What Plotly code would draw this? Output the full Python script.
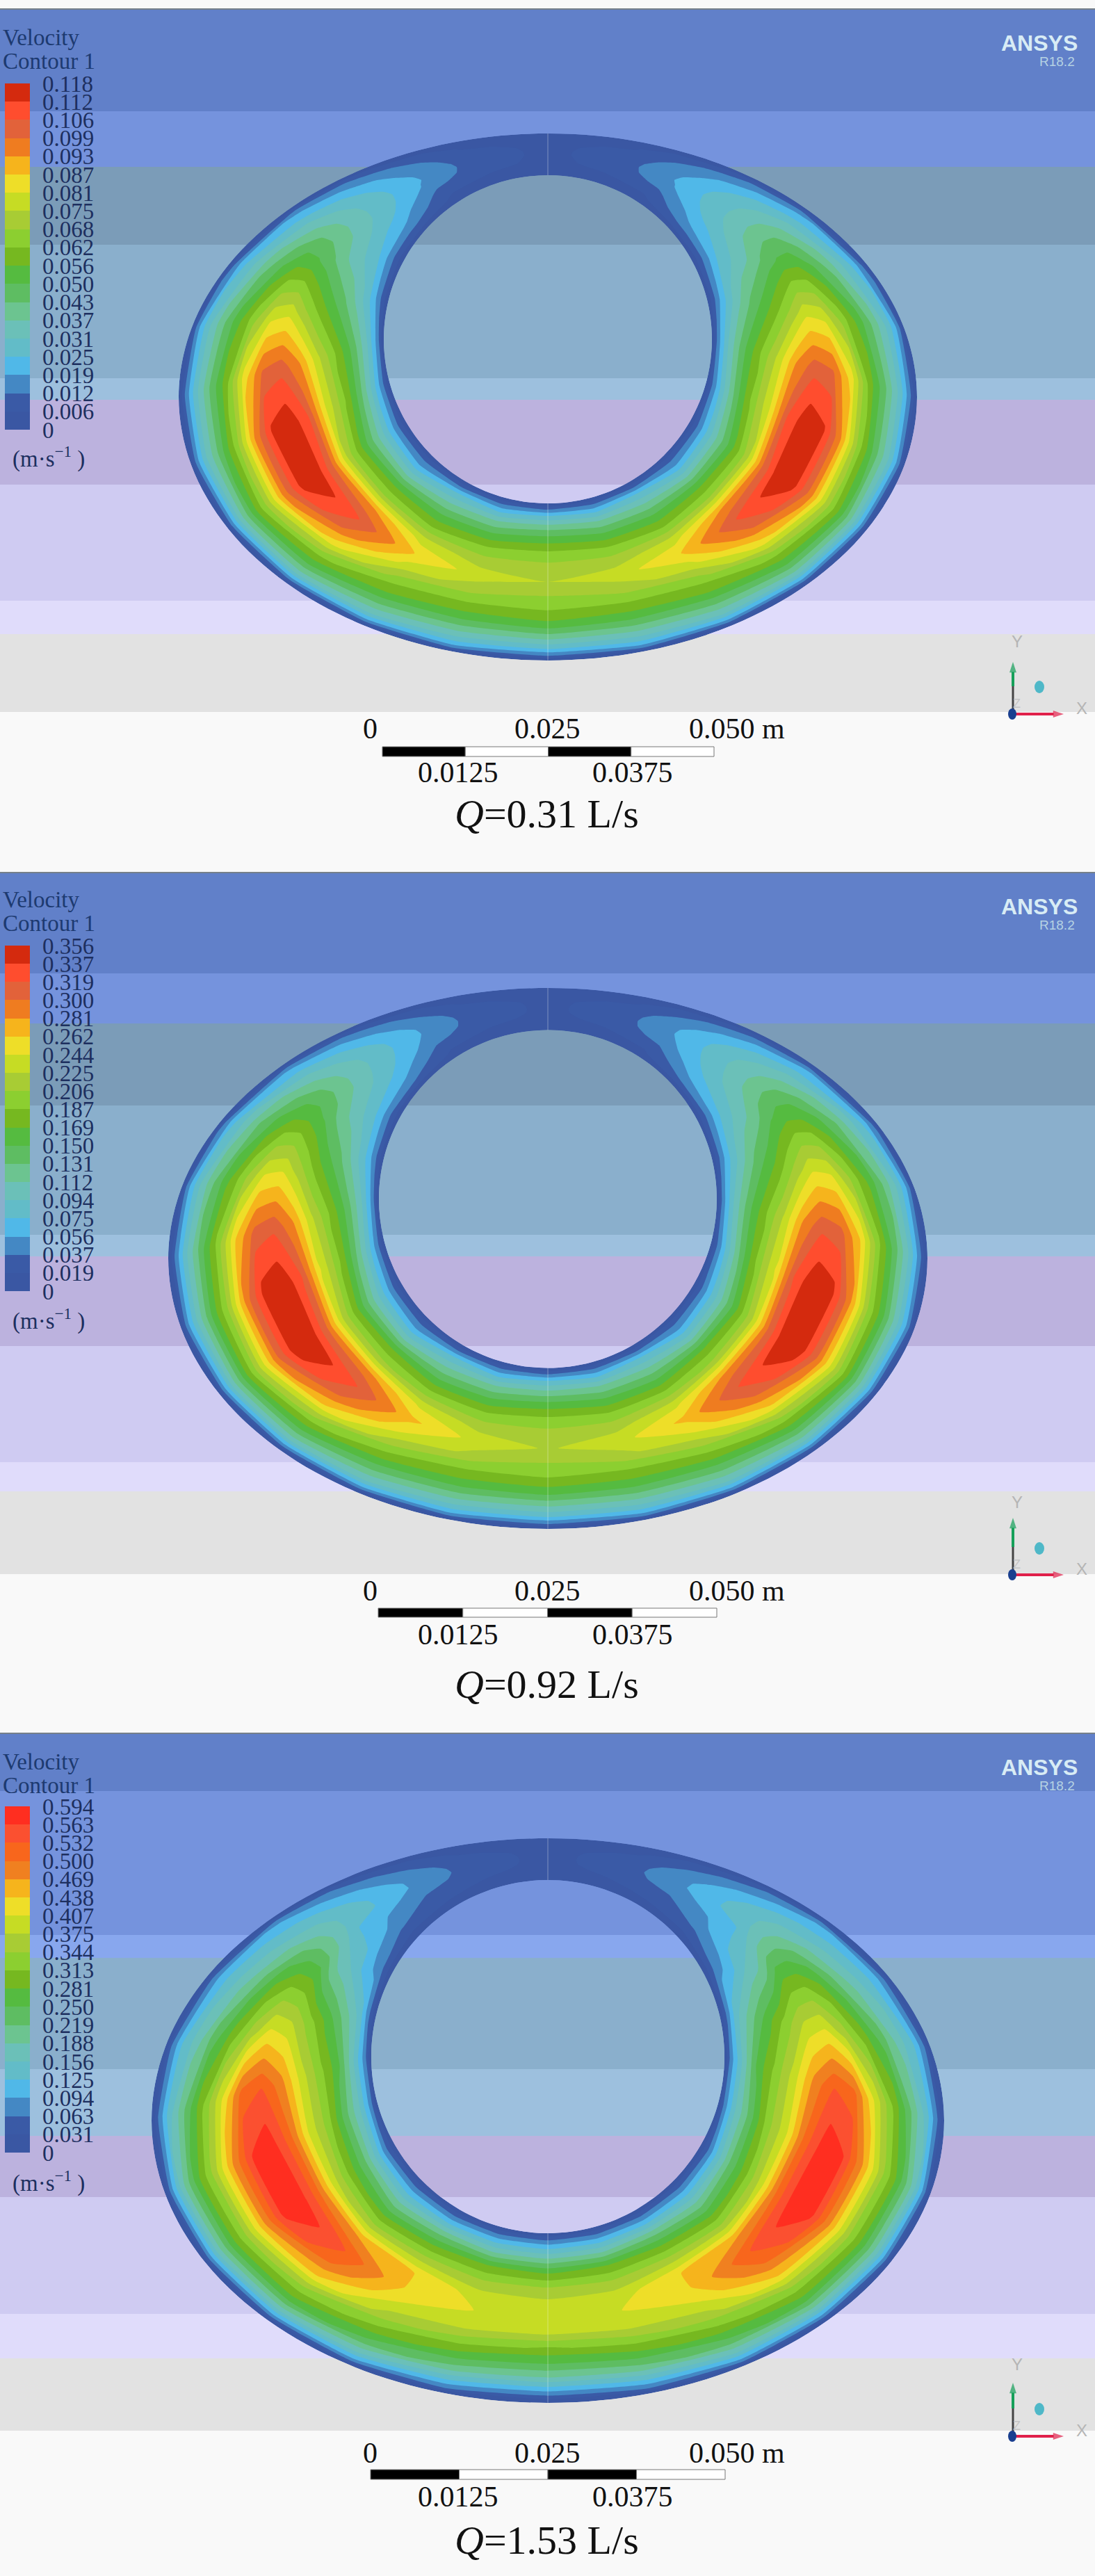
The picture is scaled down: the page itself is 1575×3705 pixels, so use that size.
import math
import plotly.graph_objects as go

PAGE_W, PAGE_H = 1575, 3705
SERIF = "Liberation Serif"

# radial stations (0 = inner circle, 1 = outer ellipse), and angle stations from the top, left side
RADIAL = [0, .03, .08, .15, .23, .32, .41, .50, .59, .68, .77, .85, .92, .97, 1]
ANGLES = [0, 15, 30, 45, 60, 75, 90, 105, 120, 135, 150, 165, 180]

# velocity, in legend-band units; one row per angle, one column per radial station
BANDS_1 = [
    [0, .4, .6, .7, .8, .8, .8, .8, .8, .8, .8, .7, .6, .4, 0],
    [0, .4, .6, .8, 1, 1.2, 1.3, 1.4, 1.4, 1.3, 1.1, .9, .6, .4, 0],
    [0, .4, .7, 1.1, 1.6, 2.3, 2.9, 3.2, 3.2, 3, 2.7, 2.2, 1.6, .8, 0],
    [0, .8, 1.8, 2.8, 3.6, 4.5, 5, 5.3, 5.4, 5.2, 4.6, 3.7, 2.8, 1.5, 0],
    [0, 1, 2.4, 4, 5, 6, 7.2, 8.2, 8.6, 7.8, 6.5, 5, 3.6, 1.8, 0],
    [0, 1.5, 3.5, 5.5, 7.3, 9, 10.8, 12.7, 12.6, 10.6, 8.5, 6.5, 4.5, 2.5, 0],
    [0, 2.5, 5, 7.6, 9.8, 12.2, 15, 16.6, 16.2, 13.5, 9.5, 7, 4.5, 2, 0],
    [0, 2, 4.5, 7.5, 10.3, 13, 17, 18.8, 18.2, 15, 10.5, 7.5, 5, 2.5, 0],
    [0, 1.5, 3.5, 6, 8.5, 11.5, 16, 18.9, 18.3, 15.5, 11.5, 8.5, 5.5, 2.5, 0],
    [0, 1.5, 3, 5.5, 8.5, 11, 15.2, 17, 15.8, 13.5, 10.3, 8, 5.5, 2.5, 0],
    [0, 1.5, 4, 6, 8, 10, 12.5, 14, 12.5, 10.5, 9, 7, 5, 2.5, 0],
    [0, 1.5, 3.5, 6, 8, 10, 11.5, 12.5, 11.5, 10, 8.5, 6.5, 4.5, 2.5, 0],
    [0, 1.5, 4, 6.5, 8.5, 10.3, 11.4, 12, 11, 10, 8.7, 6.5, 4.3, 2, 0],
]
BANDS_2 = [
    [0, .4, .6, .7, .8, .8, .8, .8, .8, .8, .8, .7, .6, .4, 0],
    [0, .4, .6, .8, 1, 1.2, 1.4, 1.5, 1.5, 1.4, 1.1, .9, .6, .4, 0],
    [0, .4, .8, 1.2, 1.8, 2.5, 3, 3.3, 3.4, 3.2, 2.8, 2.3, 1.6, .8, 0],
    [0, .9, 2, 3, 3.9, 4.7, 5.2, 5.6, 5.7, 5.4, 4.8, 3.9, 2.9, 1.5, 0],
    [0, 1.1, 2.6, 4.2, 5.3, 6.4, 7.8, 8.8, 9, 8.2, 6.9, 5.3, 3.8, 1.9, 0],
    [0, 1.6, 3.6, 5.6, 7.5, 9.2, 11.2, 13, 13, 11, 8.8, 6.7, 4.6, 2.5, 0],
    [0, 2.5, 5, 7.6, 9.8, 12.2, 15.2, 16.8, 16.4, 14, 10.2, 7.3, 4.6, 2, 0],
    [0, 2, 4.5, 7.5, 10.4, 13.2, 17.2, 18.9, 18.4, 15.4, 11, 8, 5, 2.5, 0],
    [0, 1.5, 3.5, 6, 8.8, 12, 16.2, 19, 18.6, 15.8, 12, 8.6, 5.5, 2.5, 0],
    [0, 1.5, 3, 5.5, 8.8, 11.3, 15.5, 17.2, 16, 13.8, 10.5, 8, 5.5, 2.5, 0],
    [0, 1.5, 4, 6, 8, 10.3, 12.8, 14.3, 13, 11, 9, 7, 5, 2.5, 0],
    [0, 1.5, 3.5, 6, 8, 10, 11.6, 12.6, 11.7, 10, 8.5, 6.5, 4.5, 2.5, 0],
    [0, 1.5, 4, 6.3, 8.5, 10.3, 11.4, 11.9, 11, 10, 8.5, 6.3, 4.3, 2, 0],
]
BANDS_3 = [
    [0, .3, .5, .6, .7, .7, .7, .7, .7, .7, .7, .6, .5, .3, 0],
    [0, .4, .6, .8, 1, 1.2, 1.4, 1.5, 1.5, 1.4, 1.1, .9, .6, .4, 0],
    [0, .5, .9, 1.2, 1.5, 2.1, 2.7, 3.1, 3.2, 3, 2.6, 2.1, 1.5, .7, 0],
    [0, .6, 1.2, 2.1, 3, 3.4, 4, 5, 5.2, 5, 4.4, 3.6, 2.9, 1.5, 0],
    [0, 1, 2.5, 3.5, 5, 6.3, 8.5, 9, 8.5, 7, 5.5, 4.5, 3.3, 1.7, 0],
    [0, 1.8, 4.5, 6.5, 8.5, 10.5, 12.3, 13, 11.5, 9.5, 7.5, 5.5, 4, 2, 0],
    [0, 2.5, 5, 8.3, 10.3, 12.6, 15.4, 17, 16.4, 13, 9.8, 7, 4.5, 2, 0],
    [0, 2.5, 5, 7.5, 10.5, 12.8, 16.5, 18.7, 18, 15, 11.3, 8.5, 5.5, 2.5, 0],
    [0, 1.5, 4, 7, 9.5, 12.5, 16.5, 18.9, 18.2, 15, 11.3, 8.5, 5.5, 2.5, 0],
    [0, 1.5, 3.5, 6, 8.5, 11.3, 15, 17, 16, 14, 10.7, 8.5, 5.5, 2.5, 0],
    [0, 1.5, 3.5, 6.5, 9, 11.5, 14, 14, 13, 11.5, 9.5, 7.5, 5, 2.5, 0],
    [0, 1.5, 3.5, 6, 9, 11, 12.5, 13, 12.5, 10.5, 8.5, 6.5, 4, 2, 0],
    [0, 1.5, 3.5, 6, 8.8, 11, 12.3, 12.8, 12.2, 9.8, 8, 6, 3.5, 1.5, 0],
]

TICKS_1 = ["0.118", "0.112", "0.106", "0.099", "0.093", "0.087", "0.081", "0.075", "0.068", "0.062",
           "0.056", "0.050", "0.043", "0.037", "0.031", "0.025", "0.019", "0.012", "0.006", "0"]
TICKS_2 = ["0.356", "0.337", "0.319", "0.300", "0.281", "0.262", "0.244", "0.225", "0.206", "0.187",
           "0.169", "0.150", "0.131", "0.112", "0.094", "0.075", "0.056", "0.037", "0.019", "0"]
TICKS_3 = ["0.594", "0.563", "0.532", "0.500", "0.469", "0.438", "0.407", "0.375", "0.344", "0.313",
           "0.281", "0.250", "0.219", "0.188", "0.156", "0.125", "0.094", "0.063", "0.031", "0"]

PALETTE = ["#3a57a3", "#3a5aa6", "#4488c4", "#50b8e8", "#62bcc8", "#6bc0b8", "#6cc490", "#5ebd62",
           "#55bb40", "#76b820", "#8ccf30", "#a8cc34", "#c6dc24", "#eede28", "#f6b41c", "#ef7c20",
           "#e2623a", "#ff4d2e", "#d42a0e"]
PALETTE_3 = PALETTE[:15] + ["#f08020", "#f8661c", "#fb5030", "#ff2e20"]

BG_COLORS = ["#6180c9", "#7593dd", "#7b9cb8", "#8aafcc", "#9dc0de", "#bcb2de", "#cfcbf2", "#e0dcfb", "#e2e2e2"]
BG_3_COLORS = ["#6180c9", "#7593dd", "#88a7ee", "#8aafcc", "#9dc0de", "#bcb2de", "#cfcbf2", "#e0dcfb", "#e2e2e2"]

PANELS = [
    dict(ticks=TICKS_1, bands=BANDS_1, palette=PALETTE, title="=0.31 L/s",
         cx=788, inner_cy=488, inner_r=236, outer_cy=571, outer_a=531, outer_b=379,
         bg_edges=[13, 160, 240, 352, 544, 575, 697, 864, 912, 1024], bg_colors=BG_COLORS,
         legend_top=120, legend_bottom=618, text_top=54, bar=(550, 1027, 1074, 1088),
         label_y=1048, sub_y=1111, title_y=1170, origin_y=1027, y_tip=952, y_label=922, dot_y=988),
    dict(ticks=TICKS_2, bands=BANDS_2, palette=PALETTE, title="=0.92 L/s",
         cx=788, inner_cy=1724.5, inner_r=243, outer_cy=1810, outer_a=546, outer_b=389,
         bg_edges=[1255, 1400, 1472, 1590, 1776, 1807, 1936, 2103, 2145, 2264], bg_colors=BG_COLORS,
         legend_top=1360, legend_bottom=1857, text_top=1294, bar=(544, 1031, 2313, 2326),
         label_y=2288, sub_y=2351, title_y=2422, origin_y=2265, y_tip=2183, y_label=2160, dot_y=2227),
    dict(ticks=TICKS_3, bands=BANDS_3, palette=PALETTE_3, title="=1.53 L/s",
         cx=788, inner_cy=2958, inner_r=254, outer_cy=3050, outer_a=570, outer_b=406,
         bg_edges=[2493, 2576, 2783, 2816, 2976, 3072, 3160, 3328, 3392, 3496], bg_colors=BG_3_COLORS,
         legend_top=2598, legend_bottom=3096, text_top=2534, bar=(533, 1043, 3552, 3566),
         label_y=3528, sub_y=3591, title_y=3653, origin_y=3504, y_tip=3427, y_label=3400, dot_y=3465),
]

fig = go.Figure()
shapes, notes = [], []


def note(x, y, text, size, color="#000000", anchor="center", family=SERIF):
    notes.append(dict(x=x, y=y, xref="x", yref="y", text=text, showarrow=False, xanchor=anchor,
                      yanchor="middle", font=dict(family=family, size=size, color=color)))


def arrow(x0, y0, x1, y1, color):
    fig.add_trace(go.Scatter(x=[x0, x1], y=[y0, y1], mode="lines+markers", hoverinfo="skip", showlegend=False,
                             line=dict(color=color, width=4),
                             marker=dict(symbol="arrow", size=[0, 16], angleref="previous", color=color,
                                         line_width=0)))


for n, p in enumerate(PANELS, start=1):
    for k, col in enumerate(p["bg_colors"]):
        shapes.append(dict(type="rect", layer="below", xref="x", yref="y", x0=0, x1=PAGE_W,
                           y0=p["bg_edges"][k], y1=p["bg_edges"][k + 1], fillcolor=col, line_width=0))
    shapes.append(dict(type="line", layer="below", xref="x", yref="y", x0=0, x1=PAGE_W,
                       y0=p["bg_edges"][0], y1=p["bg_edges"][0], line=dict(color="#76808a", width=2)))

    turns = ANGLES + [360 - t for t in reversed(ANGLES[:-1])]
    rows = p["bands"] + list(reversed(p["bands"][:-1]))
    vmax = float(p["ticks"][0])
    step = vmax / 19
    xs, ys, zs = [], [], []
    for j, s in enumerate(RADIAL):
        xr, yr, zr = [], [], []
        for i, t in enumerate(turns):
            sn, cs = math.sin(math.radians(t)), math.cos(math.radians(t))
            xi, yi = p["cx"] - p["inner_r"] * sn, p["inner_cy"] - p["inner_r"] * cs
            xo, yo = p["cx"] - p["outer_a"] * sn, p["outer_cy"] - p["outer_b"] * cs
            xr.append(xi + s * (xo - xi))
            yr.append(yi + s * (yo - yi))
            zr.append(rows[i][j] * step)
        xs.append(xr)
        ys.append(yr)
        zs.append(zr)

    cid = f"ring{n}"
    hidden = dict(showgrid=False, showline=False, showticklabels="none", startline=False, endline=False,
                  minorgridcount=0, smoothing=1)
    fig.add_trace(go.Carpet(carpet=cid, a=turns, b=RADIAL, x=xs, y=ys,
                            aaxis=hidden, baxis={**hidden, "smoothing": 0}))
    scale = []
    for k, col in enumerate(p["palette"]):
        scale += [[k / 19, col], [(k + 1) / 19, col]]
    tickvals = [step * (19 - k) for k in range(20)]
    fig.add_trace(go.Contourcarpet(
        carpet=cid, z=zs, zmin=0, zmax=vmax, autocontour=False, colorscale=scale,
        contours=dict(start=step, end=18 * step, size=step, coloring="fill", showlines=False),
        line=dict(width=0, smoothing=0.4),
        colorbar=dict(x=7 / PAGE_W, xanchor="left", xpad=0, ypad=0, y=1 - p["legend_top"] / PAGE_H, yanchor="top",
                      thicknessmode="pixels", thickness=36, lenmode="pixels",
                      len=p["legend_bottom"] - p["legend_top"], outlinewidth=0, borderwidth=0,
                      tickmode="array", tickvals=tickvals, ticktext=p["ticks"], ticks="outside", ticklen=12,
                      tickcolor="rgba(0,0,0,0)", tickfont=dict(family=SERIF, size=33, color="#1d2f5f")),
    ))

    # seam on the symmetry line
    for y0, y1 in [(p["outer_cy"] - p["outer_b"], p["inner_cy"] - p["inner_r"]),
                   (p["inner_cy"] + p["inner_r"], p["outer_cy"] + p["outer_b"])]:
        shapes.append(dict(type="line", xref="x", yref="y", x0=p["cx"], x1=p["cx"], y0=y0, y1=y1,
                           line=dict(color="rgba(255,255,255,0.35)", width=1)))

    # legend heading
    note(2, p["text_top"], "Velocity", 33, "#1d3a70", "left")
    note(2, p["text_top"] + 34, "Contour 1", 33, "#1d3a70", "left")
    note(16, p["text_top"] + 603, "(m·s<sup>−1</sup> )", 33, "#1d2f5f", "left")

    # logo
    top = p["bg_edges"][0]
    note(1495, top + 49, "<b>ANSYS</b>", 32, "#d8ecf5", family="Liberation Sans")
    note(1520, top + 75, "R18.2", 19, "#b5d2e3", family="Liberation Sans")

    # scale bar
    x0, x1, y0, y1 = p["bar"]
    segs = 4
    for k in range(segs):
        shapes.append(dict(type="rect", xref="x", yref="y", x0=x0 + (x1 - x0) * k / segs,
                           x1=x0 + (x1 - x0) * (k + 1) / segs, y0=y0, y1=y1,
                           fillcolor="#000000" if k % 2 == 0 else "#ffffff",
                           line=dict(color="#777777", width=1)))
    for x, t in [(532, "0"), (787, "0.025"), (1060, "0.050 m")]:
        note(x, p["label_y"], t, 42, "#111111")
    for x, t in [(659, "0.0125"), (910, "0.0375")]:
        note(x, p["sub_y"], t, 42, "#111111")
    note(786, p["title_y"], "<i>Q</i>" + p["title"], 58, "#111111")

    # triad
    oy = p["origin_y"]
    shapes.append(dict(type="line", xref="x", yref="y", x0=1457, x1=1457, y0=oy, y1=oy - 40,
                       line=dict(color="#444444", width=3)))
    arrow(1457, oy - 40, 1457, p["y_tip"], "#16a05a")
    arrow(1457, oy, 1530, oy, "#e0204a")
    shapes.append(dict(type="circle", xref="x", yref="y", x0=1450, x1=1462, y0=oy - 8, y1=oy + 8,
                       fillcolor="#1a3f8f", line_width=0))
    shapes.append(dict(type="circle", xref="x", yref="y", x0=1488, x1=1502, y0=p["dot_y"] - 9, y1=p["dot_y"] + 9,
                       fillcolor="#4fb8c8", line_width=0))
    note(1463, p["y_label"], "Y", 24, "#b5b5b5", family="Liberation Sans")
    note(1556, oy - 9, "X", 24, "#b5b5b5", family="Liberation Sans")
    note(1462, oy - 15, "Z", 18, "#c5c5c5", family="Liberation Sans")

fig.update_layout(
    width=PAGE_W, height=PAGE_H, margin=dict(l=0, r=0, t=0, b=0, pad=0), autosize=False,
    paper_bgcolor="#f9f9f9", plot_bgcolor="#f9f9f9", showlegend=False, shapes=shapes, annotations=notes,
    xaxis=dict(range=[0, PAGE_W], visible=False, fixedrange=True),
    yaxis=dict(range=[PAGE_H, 0], visible=False, fixedrange=True),
)
fig.write_html("out.html", include_plotlyjs=True, config={"displayModeBar": False},
               post_script="document.body.style.margin='0';document.documentElement.style.overflow='hidden';")
